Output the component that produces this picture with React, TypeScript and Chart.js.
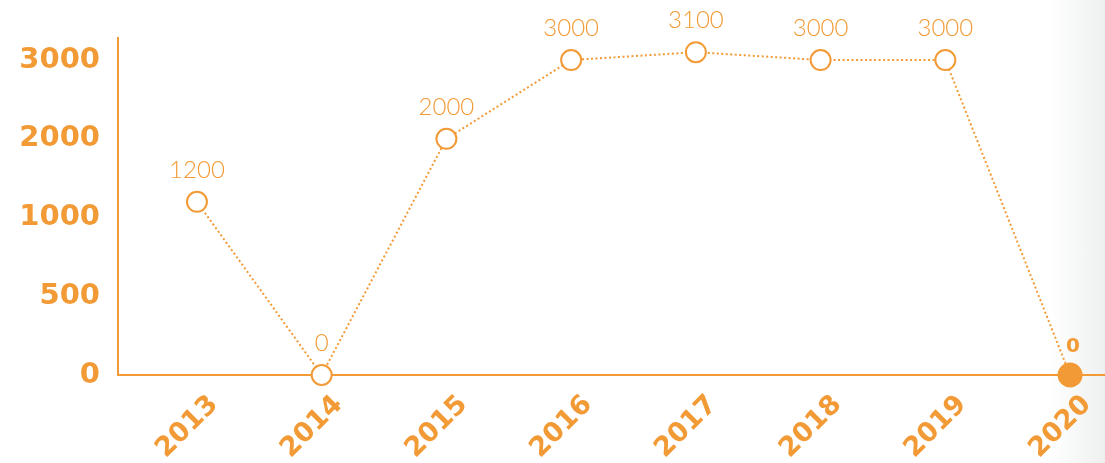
import React, { useEffect, useRef } from 'react';
import { Chart, registerables, LinearScale } from 'chart.js';

// ---- data ----
const YEARS: string[] = ['2013', '2014', '2015', '2016', '2017', '2018', '2019', '2020'];
const VALUES: number[] = [1200, 0, 2000, 3000, 3100, 3000, 3000, 0];
const Y_TICKS: number[] = [0, 500, 1000, 2000, 3000];
const HIGHLIGHT_INDEX = 7;

const ORANGE = '#F29A35';

// value -> evenly spaced tick index space
function toIdx(v: number): number {
  for (let i = 1; i < Y_TICKS.length; i++) {
    if (v <= Y_TICKS[i]) return i - 1 + (v - Y_TICKS[i - 1]) / (Y_TICKS[i] - Y_TICKS[i - 1]);
  }
  const n = Y_TICKS.length - 1;
  return n + (v - Y_TICKS[n]) / (Y_TICKS[n] - Y_TICKS[n - 1]);
}
function fromIdx(x: number): number {
  const n = Y_TICKS.length - 1;
  if (x >= n) return Y_TICKS[n] + (x - n) * (Y_TICKS[n] - Y_TICKS[n - 1]);
  const i = Math.max(0, Math.floor(x));
  return Y_TICKS[i] + (x - i) * (Y_TICKS[i + 1] - Y_TICKS[i]);
}

class TickStepScale extends LinearScale {
  static id = 'tickstep';
  static defaults = LinearScale.defaults;
  buildTicks() {
    (this as any).start = this.min;
    (this as any).end = this.max;
    return Y_TICKS.map((v) => ({ value: v }));
  }
  getPixelForValue(value: number) {
    if (value === null || value === undefined) return NaN;
    const a = toIdx(this.min);
    const b = toIdx(this.max);
    return this.getPixelForDecimal((toIdx(value) - a) / (b - a));
  }
  getValueForPixel(pixel: number) {
    const a = toIdx(this.min);
    const b = toIdx(this.max);
    return fromIdx(a + this.getDecimalForPixel(pixel) * (b - a));
  }
}

Chart.register(...registerables, TickStepScale);

const valueLabels = {
  id: 'valueLabels',
  afterDatasetsDraw(chart: any) {
    const ctx = chart.ctx;
    const meta = chart.getDatasetMeta(0);
    ctx.save();
    ctx.textAlign = 'center';
    ctx.textBaseline = 'middle';
    meta.data.forEach((el: any, i: number) => {
      const v = VALUES[i];
      ctx.fillStyle = ORANGE;
      if (i === HIGHLIGHT_INDEX) {
        ctx.font = 'bold 20px "DejaVu Sans"';
        ctx.fillText(String(v), el.x + 3, el.y - 28);
      } else {
        ctx.font = '300 24px Lato';
        ctx.fillText(String(v), el.x, el.y - 32);
      }
    });
    ctx.restore();
  },
};

export default function App() {
  const canvasRef = useRef<HTMLCanvasElement | null>(null);

  useEffect(() => {
    document.body.style.margin = '0';
    let chart: Chart | null = null;
    let cancelled = false;

    const create = () => {
      if (cancelled || !canvasRef.current) return;
      const points = VALUES.map((v, i) => ({ x: i, y: v }));
      chart = new Chart(canvasRef.current, {
        type: 'line',
        data: {
          datasets: [
            {
              data: points,
              borderColor: ORANGE,
              borderWidth: 2,
              borderDash: [2, 2.5],
              fill: false,
              tension: 0,
              clip: false as any,
              pointRadius: VALUES.map((_, i) => (i === HIGHLIGHT_INDEX ? 11.5 : 10)),
              pointBorderWidth: 2,
              pointBorderColor: ORANGE,
              pointBackgroundColor: VALUES.map((_, i) => (i === HIGHLIGHT_INDEX ? ORANGE : '#ffffff')),
            },
          ],
        },
        options: {
          animation: false,
          responsive: false,
          events: [],
          layout: { autoPadding: false, padding: { top: 38, right: 0, left: 0, bottom: 0 } },
          plugins: { legend: { display: false }, tooltip: { enabled: false } },
          scales: {
            x: {
              type: 'linear',
              bounds: 'data',
              min: -0.633,
              max: 7.28,
              grid: { display: false, drawTicks: false },
              border: { display: true, color: ORANGE, width: 2 },
              afterBuildTicks: (scale: any) => {
                scale.ticks = YEARS.map((_, i) => ({ value: i }));
              },
              afterFit: (scale: any) => {
                scale.height = 88;
                scale.paddingLeft = 0;
                scale.paddingRight = 0;
              },
              ticks: {
                autoSkip: false,
                minRotation: 45,
                maxRotation: 45,
                padding: 14,
                labelOffset: 17,
                color: ORANGE,
                font: { family: '"DejaVu Sans"', weight: 'bold', size: 27 },
                callback: (v: any) => YEARS[Math.round(Number(v))] ?? '',
              },
            },
            y: {
              type: 'tickstep' as any,
              min: 0,
              max: 3280,
              grid: { display: false, drawTicks: false },
              border: { display: true, color: ORANGE, width: 2 },
              afterFit: (scale: any) => {
                scale.width = 118;
              },
              ticks: {
                padding: 18,
                labelOffset: 0,
                color: ORANGE,
                font: { family: '"DejaVu Sans"', weight: 'bold', size: 29 },
                callback: (v: any) => String(v),
              },
            } as any,
          },
        },
        plugins: [valueLabels],
      });
    };

    const fonts = (document as any).fonts;
    if (fonts && fonts.load) {
      Promise.all([
        fonts.load('300 24px Lato'),
        fonts.load('bold 27px "DejaVu Sans"'),
      ]).then(create, create);
    } else {
      create();
    }

    return () => {
      cancelled = true;
      if (chart) chart.destroy();
    };
  }, []);

  return (
    <div
      style={{
        width: 1105,
        height: 463,
        background: 'linear-gradient(to right, #ffffff 0px, #ffffff 1050px, #eef0f0 1105px)',
      }}
    >
      <canvas ref={canvasRef} width={1105} height={463} style={{ display: 'block' }} />
    </div>
  );
}
